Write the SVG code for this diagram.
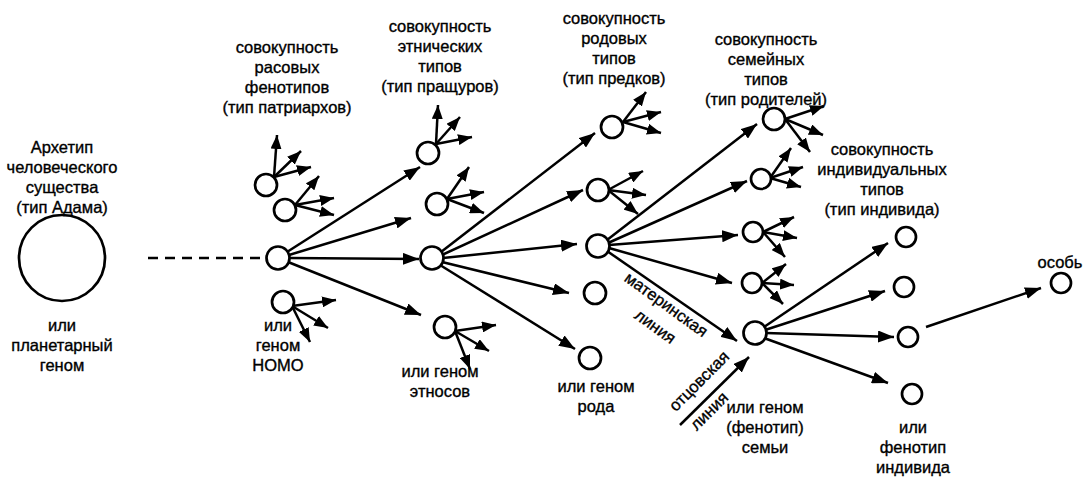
<svg xmlns="http://www.w3.org/2000/svg" width="1086" height="478" viewBox="0 0 1086 478">
<style>
text{font-family:"Liberation Sans",Arial,sans-serif;font-size:16.5px;fill:#000;stroke:#000;stroke-width:0.35;text-anchor:middle}
circle{fill:#fff;stroke:#000;stroke-width:2.7}
.c line{stroke:#000;stroke-width:2.5}
.big{marker-end:url(#ah)}
.sm{marker-end:url(#as)}
.dash{stroke-dasharray:10 7;stroke-width:2.8}
</style>
<defs>
<marker id="ah" viewBox="0 0 16 12" refX="16" refY="6" markerWidth="16" markerHeight="12" markerUnits="userSpaceOnUse" orient="auto"><path d="M0,0 L16,6 L0,12 z"/></marker>
<marker id="as" viewBox="0 0 14 11" refX="14" refY="5.5" markerWidth="14" markerHeight="11" markerUnits="userSpaceOnUse" orient="auto"><path d="M0,0 L14,5.5 L0,11 z"/></marker>
</defs>
<rect width="1086" height="478" fill="#fff"/>
<g id="connectors" class="c">
<line class="big dash" x1="148" y1="258" x2="285" y2="258"/>
<line class="big" x1="287" y1="252" x2="420" y2="167"/>
<line class="big" x1="289" y1="255" x2="411" y2="218"/>
<line class="big" x1="289" y1="258" x2="419" y2="259"/>
<line class="big" x1="288" y1="262" x2="421" y2="315"/>
<line class="big" x1="441" y1="252" x2="595" y2="133"/>
<line class="big" x1="442" y1="255" x2="583" y2="190"/>
<line class="big" x1="443" y1="258" x2="577" y2="244"/>
<line class="big" x1="442" y1="262" x2="569" y2="293"/>
<line class="big" x1="440" y1="265" x2="575" y2="349"/>
<line class="big" x1="607" y1="240" x2="757" y2="124"/>
<line class="big" x1="608" y1="243" x2="747" y2="181"/>
<line class="big" x1="609" y1="245" x2="738" y2="235"/>
<line class="big" x1="609" y1="248" x2="732" y2="283"/>
<line class="big" x1="607" y1="251" x2="737" y2="341"/>
<line class="big" x1="680" y1="425" x2="749" y2="357"/>
<line class="big" x1="764" y1="327" x2="888" y2="243"/>
<line class="big" x1="765" y1="330" x2="885" y2="291"/>
<line class="big" x1="766" y1="333" x2="894" y2="337"/>
<line class="big" x1="764" y1="338" x2="888" y2="383"/>
<line class="big" x1="926" y1="327" x2="1041" y2="288"/>
<line class="sm" x1="274" y1="177" x2="277" y2="135"/>
<line class="sm" x1="274" y1="177" x2="301" y2="151"/>
<line class="sm" x1="274" y1="177" x2="311" y2="167"/>
<line class="sm" x1="295" y1="205" x2="319" y2="176"/>
<line class="sm" x1="295" y1="205" x2="334" y2="198"/>
<line class="sm" x1="295" y1="205" x2="334" y2="215"/>
<line class="sm" x1="292" y1="306" x2="336" y2="300"/>
<line class="sm" x1="292" y1="306" x2="328" y2="328"/>
<line class="sm" x1="292" y1="306" x2="310" y2="342"/>
<line class="sm" x1="436" y1="144" x2="438" y2="105"/>
<line class="sm" x1="436" y1="144" x2="460" y2="117"/>
<line class="sm" x1="436" y1="144" x2="472" y2="137"/>
<line class="sm" x1="447" y1="199" x2="469" y2="167"/>
<line class="sm" x1="447" y1="199" x2="484" y2="192"/>
<line class="sm" x1="447" y1="199" x2="484" y2="213"/>
<line class="sm" x1="455" y1="331" x2="496" y2="325"/>
<line class="sm" x1="455" y1="331" x2="489" y2="351"/>
<line class="sm" x1="455" y1="331" x2="470" y2="369"/>
<line class="sm" x1="623" y1="122" x2="646" y2="92"/>
<line class="sm" x1="623" y1="122" x2="661" y2="112"/>
<line class="sm" x1="623" y1="122" x2="661" y2="133"/>
<line class="sm" x1="608" y1="190" x2="643" y2="171"/>
<line class="sm" x1="608" y1="190" x2="646" y2="195"/>
<line class="sm" x1="608" y1="190" x2="638" y2="214"/>
<line class="sm" x1="785" y1="119" x2="824" y2="106"/>
<line class="sm" x1="785" y1="119" x2="823" y2="135"/>
<line class="sm" x1="785" y1="119" x2="810" y2="152"/>
<line class="sm" x1="770" y1="178" x2="791" y2="148"/>
<line class="sm" x1="770" y1="178" x2="803" y2="167"/>
<line class="sm" x1="770" y1="178" x2="801" y2="187"/>
<line class="sm" x1="763" y1="232" x2="794" y2="217"/>
<line class="sm" x1="763" y1="232" x2="797" y2="238"/>
<line class="sm" x1="763" y1="232" x2="785" y2="257"/>
<line class="sm" x1="762" y1="283" x2="786" y2="264"/>
<line class="sm" x1="762" y1="283" x2="794" y2="285"/>
<line class="sm" x1="762" y1="283" x2="783" y2="304"/>
</g>
<g id="adam">
<circle cx="62" cy="258" r="43"/>
<text x="62" y="153">Архетип</text>
<text x="62" y="173">человеческого</text>
<text x="62" y="193">существа</text>
<text x="62" y="213">(тип Адама)</text>
<text x="62" y="331">или</text>
<text x="62" y="351">планетарный</text>
<text x="62" y="371">геном</text>
</g>
<g id="homo">
<circle cx="266" cy="185" r="11"/>
<circle cx="285" cy="210" r="11"/>
<circle cx="278" cy="258" r="11.5"/>
<circle cx="283" cy="302" r="11"/>
<text x="287" y="53">совокупность</text>
<text x="287" y="73">расовых</text>
<text x="287" y="93">фенотипов</text>
<text x="287" y="113">(тип патриархов)</text>
<text x="278" y="331">или</text>
<text x="278" y="351">геном</text>
<text x="278" y="371">НОМО</text>
</g>
<g id="ethnos">
<circle cx="428" cy="153" r="11"/>
<circle cx="437" cy="204" r="11"/>
<circle cx="432" cy="258" r="11.5"/>
<circle cx="445" cy="327" r="11"/>
<text x="440" y="32">совокупность</text>
<text x="440" y="52">этнических</text>
<text x="440" y="72">типов</text>
<text x="440" y="92">(тип пращуров)</text>
<text x="440" y="377">или геном</text>
<text x="440" y="397">этносов</text>
</g>
<g id="rod">
<circle cx="612" cy="127" r="11"/>
<circle cx="598" cy="190" r="11"/>
<circle cx="598" cy="246" r="11.5"/>
<circle cx="595" cy="293" r="11"/>
<circle cx="590" cy="358" r="11"/>
<text x="614" y="24">совокупность</text>
<text x="614" y="44">родовых</text>
<text x="614" y="64">типов</text>
<text x="614" y="84">(тип предков)</text>
<text x="596" y="392">или геном</text>
<text x="596" y="412">рода</text>
</g>
<g id="lines-labels">
<text x="663" y="309" transform="rotate(36 663 309)">материнская</text>
<text x="652" y="331" transform="rotate(36 652 331)">линия</text>
<text x="703" y="385" transform="rotate(-45 703 385)">отцовская</text>
<text x="713" y="415" transform="rotate(-45 713 415)">линия</text>
</g>
<g id="family">
<circle cx="774" cy="119" r="11"/>
<circle cx="761" cy="179" r="10"/>
<circle cx="753" cy="232" r="10"/>
<circle cx="752" cy="283" r="10"/>
<circle cx="755" cy="333" r="11.5"/>
<text x="766" y="45">совокупность</text>
<text x="766" y="65">семейных</text>
<text x="766" y="85">типов</text>
<text x="766" y="105">(тип родителей)</text>
<text x="765" y="413">или геном</text>
<text x="765" y="433">(фенотип)</text>
<text x="765" y="453">семьи</text>
</g>
<g id="individual">
<circle cx="906" cy="237" r="10"/>
<circle cx="904" cy="287" r="10"/>
<circle cx="908" cy="337" r="10"/>
<circle cx="912" cy="394" r="10"/>
<text x="882" y="155">совокупность</text>
<text x="882" y="175">индивидуальных</text>
<text x="882" y="195">типов</text>
<text x="882" y="215">(тип индивида)</text>
<text x="913" y="433">или</text>
<text x="913" y="453">фенотип</text>
<text x="913" y="473">индивида</text>
</g>
<g id="osob">
<circle cx="1061" cy="283" r="10"/>
<text x="1060" y="268">особь</text>
</g>
</svg>
